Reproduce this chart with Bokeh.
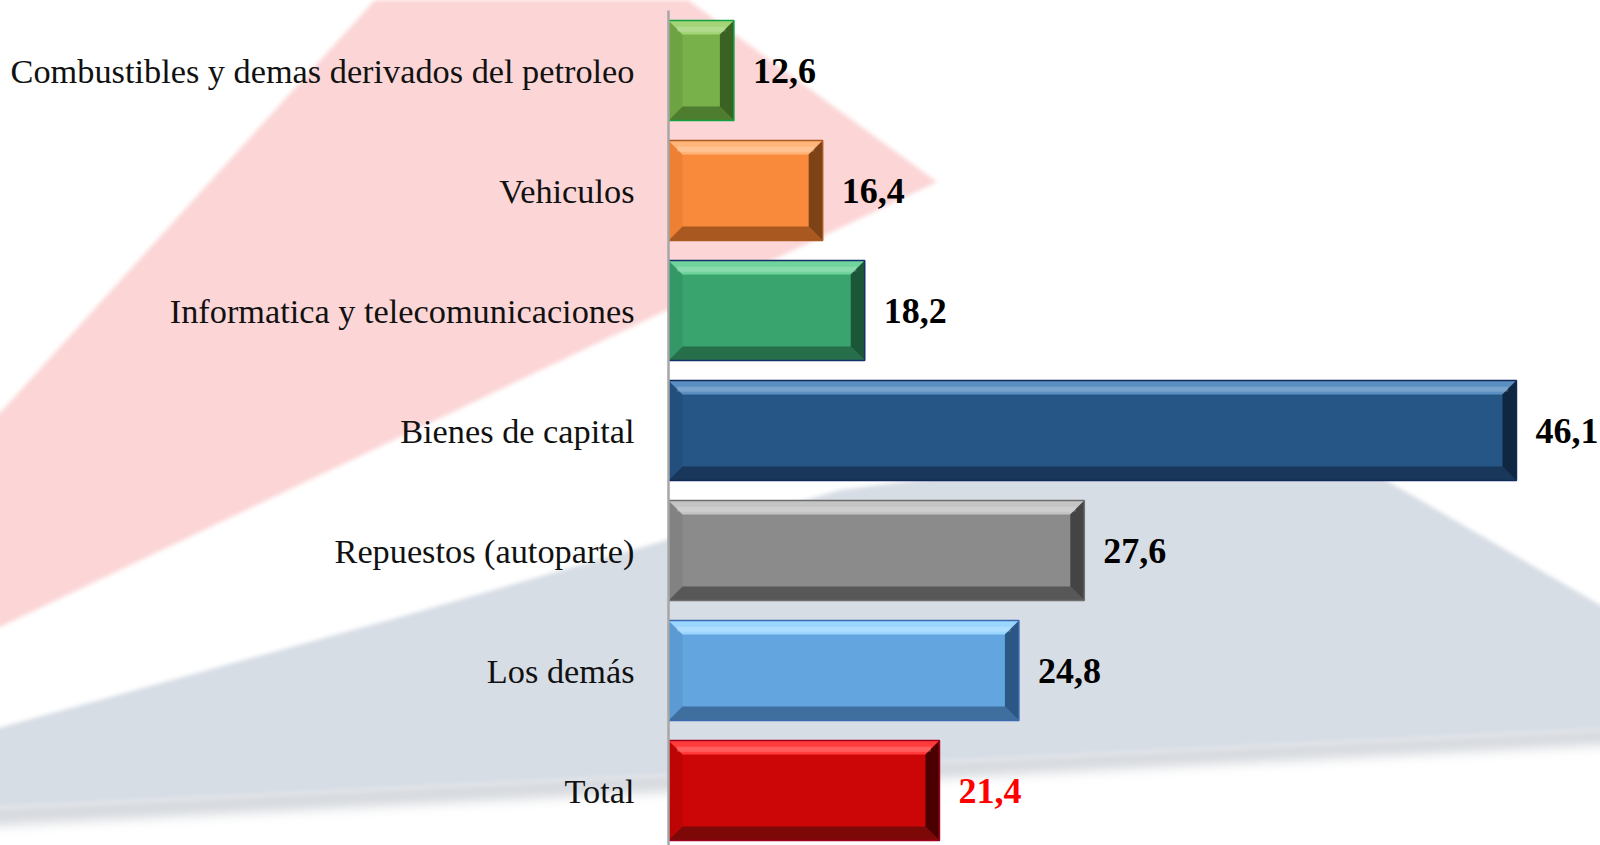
from urllib.parse import quote
from bokeh.plotting import figure
from bokeh.models import Range1d, FixedTicker, ColumnDataSource
from bokeh.embed import file_html
from bokeh.resources import INLINE
from bokeh.core.properties import value

# ---------------- data ----------------
categories = [
    "Combustibles y demas derivados del petroleo",
    "Vehiculos",
    "Informatica y telecomunicaciones",
    "Bienes de capital",
    "Repuestos (autoparte)",
    "Los demás",
    "Total",
]
values = [12.6, 16.4, 18.2, 46.1, 27.6, 24.8, 21.4]
value_labels = ["12,6", "16,4", "18,2", "46,1", "27,6", "24,8", "21,4"]

# ---------------- styles ----------------
main_colors = ["#78b14a", "#f98a3c", "#3aa46e", "#265685", "#8b8b8b", "#63a5df", "#cc0606"]
light_colors = ["#a3d477", "#ffb57a", "#70d39c", "#5b8fc2", "#c4c4c4", "#9bd6ff", "#ff3b3b"]
left_colors = ["#6ea343", "#ee8034", "#349866", "#224f7c", "#828282", "#5b9ad2", "#bd0505"]
dark_colors = ["#4e7d2f", "#a9581f", "#266f4a", "#18375a", "#575757", "#3e6f9e", "#7c0808"]
right_colors = ["#3a6223", "#7d4216", "#1c5638", "#0f2740", "#444444", "#2b5784", "#4a0000"]
outline_colors = ["#12a244", "#a85a22", "#13306a", "#10285a", "#6e6e6e", "#3a6ab0", "#a00020"]
label_colors = ["#000000"] * 6 + ["#ff0000"]

# decorative background wedges (page pixels), drawn as a CSS background
pink_pts = "375,0 688,0 937,182 0,627 -20,627 -20,413 0,413"
grey_pts = "-20,733 400,617 840,490 1300,430 1660,640 1660,726 -20,808"
shadow_pts = "-20,806 1660,724 1660,742 -20,826"
bg_svg = (
    "<svg xmlns='http://www.w3.org/2000/svg' width='1600' height='845'>"
    "<defs><filter id='b' x='-5%' y='-5%' width='110%' height='110%'>"
    "<feGaussianBlur stdDeviation='2'/></filter>"
    "<filter id='s' x='-5%' y='-50%' width='110%' height='200%'>"
    "<feGaussianBlur stdDeviation='6'/></filter></defs>"
    "<rect width='1600' height='845' fill='#ffffff'/>"
    f"<polygon points='{pink_pts}' fill='#fcd5d6' filter='url(#b)'/>"
    f"<polygon points='{shadow_pts}' fill='#c3c8cf' opacity='0.7' filter='url(#s)'/>"
    f"<polygon points='{grey_pts}' fill='#d7dde5' filter='url(#b)'/>"
    "</svg>"
)
bg_css = 'url("data:image/svg+xml;charset=utf-8,' + quote(bg_svg, safe="") + '")'

# ---------------- geometry ----------------
PX_X = 23.36          # pixels per x unit
PX_Y = 120.0          # pixels per category row
X_START = 9.8
FRAME_W = 932
FRAME_H = 835
X_END = X_START + FRAME_W / PX_X
Y_TOP = -0.5
Y_BOTTOM = Y_TOP + FRAME_H / PX_Y

p = figure(
    width=1600, height=845,
    x_range=Range1d(X_START, X_END),
    y_range=Range1d(Y_BOTTOM, Y_TOP),
    output_backend="svg", toolbar_location=None,
    x_axis_location=None,
    min_border_left=668, min_border_right=0,
    min_border_top=10, min_border_bottom=0,
    styles={"background-image": bg_css, "background-repeat": "no-repeat",
            "background-size": "1600px 845px"},
)
p.outline_line_color = None
p.grid.visible = False
p.background_fill_color = None
p.border_fill_color = None

rows = list(range(len(values)))
half = 50 / PX_Y
bx = 14 / PX_X
by = 14 / PX_Y
L = X_START
tops = [i - half for i in rows]
bots = [i + half for i in rows]

# base bar
p.quad(left=[L] * len(values), right=values, top=tops, bottom=bots,
       fill_color=main_colors, line_color=None)

# bevel faces
top_xs = [[L, v, v - bx, L + bx] for v in values]
top_ys = [[t, t, t + by, t + by] for t in tops]
bot_xs = [[L, v, v - bx, L + bx] for v in values]
bot_ys = [[b, b, b - by, b - by] for b in bots]
lft_xs = [[L, L + bx, L + bx, L] for v in values]
lft_ys = [[t, t + by, b - by, b] for t, b in zip(tops, bots)]
rgt_xs = [[v, v - bx, v - bx, v] for v in values]
rgt_ys = [[t, t + by, b - by, b] for t, b in zip(tops, bots)]

p.patches(xs=lft_xs, ys=lft_ys, fill_color=left_colors, line_color=None)
p.patches(xs=top_xs, ys=top_ys, fill_color=light_colors, line_color=None)
p.patches(xs=bot_xs, ys=bot_ys, fill_color=dark_colors, line_color=None)
p.patches(xs=rgt_xs, ys=rgt_ys, fill_color=right_colors, line_color=None)

# soft highlight on top bevel
p.quad(left=[L + bx * 0.6 for v in values], right=[v - bx * 0.6 for v in values],
       top=[t + by * 0.45 for t in tops], bottom=[t + by * 0.8 for t in tops],
       fill_color="#ffffff", fill_alpha=0.18, line_color=None)

# outline
p.quad(left=[L] * len(values), right=values, top=tops, bottom=bots,
       fill_color=None, line_color=outline_colors, line_width=1.5)

# value labels
src = ColumnDataSource(dict(x=values, y=rows, t=value_labels, c=label_colors))
p.text(x="x", y="y", text="t", source=src, text_color="c",
       x_offset=19, text_align="left", text_baseline="middle",
       text_font=value("Liberation Serif"), text_font_style="bold",
       text_font_size="36px")

# y axis
ax = p.yaxis[0]
ax.ticker = FixedTicker(ticks=rows)
ax.major_label_overrides = {i: c for i, c in zip(rows, categories)}
ax.major_tick_line_color = None
ax.major_tick_out = 0
ax.major_tick_in = 0
ax.minor_tick_line_color = None
ax.axis_line_color = "#a6a6a6"
ax.axis_line_width = 2.5
ax.major_label_standoff = 34
ax.major_label_text_font = "Liberation Serif"
ax.major_label_text_font_size = "34.3px"
ax.major_label_text_color = "#111111"

open("out.html", "w").write(file_html(p, INLINE))
